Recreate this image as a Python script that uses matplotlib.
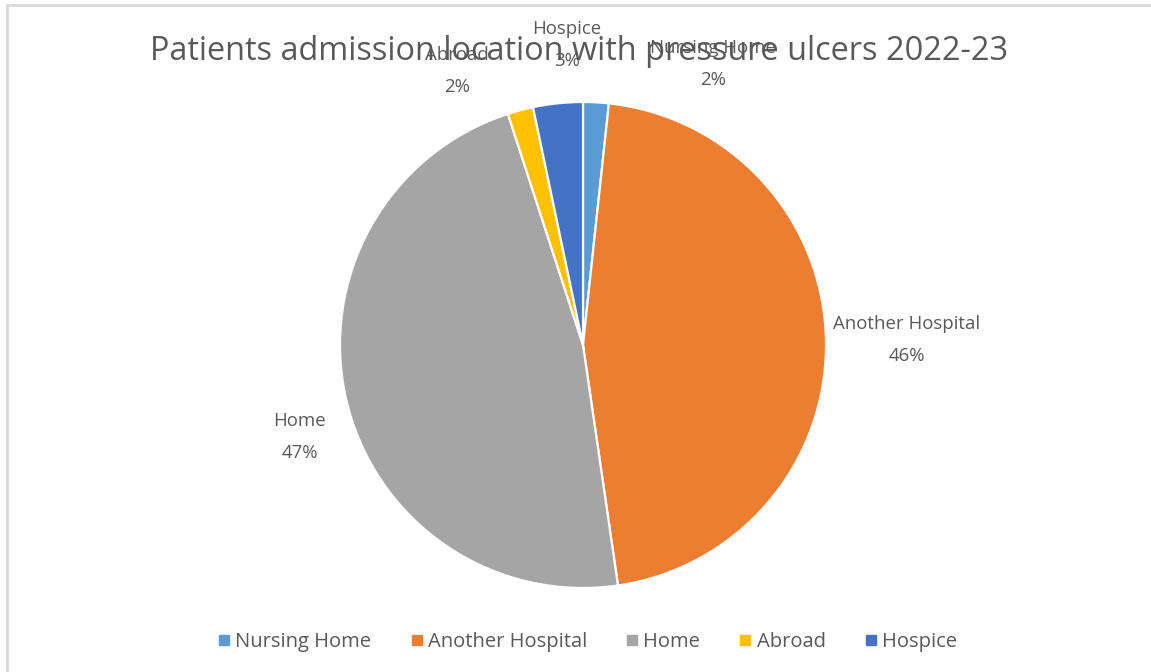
import matplotlib.pyplot as plt
from matplotlib.lines import Line2D
from matplotlib.patches import Rectangle

# Data (percent share of patients)
categories = ["Nursing Home", "Another Hospital", "Home", "Abroad", "Hospice"]
shares = [1.7, 46.0, 47.3, 1.7, 3.3]
colors = ["#5B9BD5", "#ED7D31", "#A5A5A5", "#FFC000", "#4472C4"]

# label positions in pie units (radius = 1), like Excel's best-fit placement
label_pos = [(0.535, 1.156), (1.333, 0.019), (-1.165, -0.379), (-0.519, 1.128), (-0.066, 1.235)]

plt.rcParams["font.family"] = ["Open Sans", "DejaVu Sans"]
text_color = "#595959"

W, H = 1151, 672
fig = plt.figure(figsize=(W / 100, H / 100), dpi=100)

# light chart border (only top and left visible in the crop)
fig.patches.append(Rectangle((7 / W, -0.1), 1.2, (H - 5) / H + 0.1, transform=fig.transFigure,
                             fill=False, edgecolor="#D9D9D9", linewidth=2))

cx, cy, r = 583, H - 345, 243
ax = fig.add_axes([(cx - r) / W, (cy - r) / H, 2 * r / W, 2 * r / H])
wedges, _ = ax.pie(shares, colors=colors, startangle=90, counterclock=False, radius=1,
                   wedgeprops=dict(edgecolor="white", linewidth=1.6))
ax.set_xlim(-1, 1)
ax.set_ylim(-1, 1)
ax.set_aspect("equal")
ax.axis("off")

for name, val, (lx, ly) in zip(categories, shares, label_pos):
    ax.text(lx, ly, f"{name}\n{round(val)}%", ha="center", va="center", fontsize=13.4,
            color=text_color, linespacing=2.0, zorder=5)

fig.text(579 / W, 1 - 52 / H, "Patients admission location with pressure ulcers 2022-23",
         ha="center", va="center", fontsize=23.4, color=text_color)

handles = [Line2D([], [], marker="s", linestyle="none", markersize=7, markerfacecolor=c,
                  markeredgecolor=c) for c in colors]
fig.legend(handles, categories, loc="center", bbox_to_anchor=(586 / W, 1 - 642 / H), ncol=5,
           frameon=False, fontsize=14.5, labelcolor=text_color, handletextpad=0.1,
           columnspacing=1.8, handlelength=0.9)

fig.savefig("out.png", dpi=100)
